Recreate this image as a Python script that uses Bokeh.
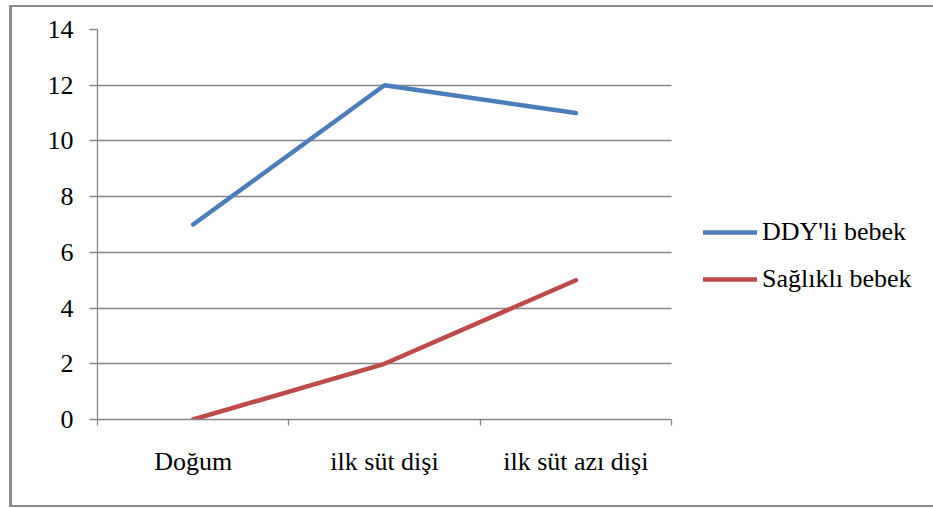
from bokeh.plotting import figure
from bokeh.models import Range1d, FixedTicker, Legend, LegendItem
from bokeh.embed import file_html
from bokeh.resources import INLINE

# Data
categories = ["Doğum", "ilk süt dişi", "ilk süt azı dişi"]
ddy_values = [7, 12, 11]
saglikli_values = [0, 2, 5]
y_ticks = [0, 2, 4, 6, 8, 10, 12, 14]

FONT = "Liberation Serif"
GRID = "#868686"
BLUE = "#4A7EBB"
RED = "#BE4B48"

n = len(categories)
x_pos = [i + 0.5 for i in range(n)]
boundaries = list(range(n + 1))

# The frame runs to the right edge so the legend can sit beside the data;
# the data area itself covers 574 of the 839 frame pixels.
FRAME_W, DATA_W = 839, 574
x_end = n * FRAME_W / DATA_W

p = figure(
    width=924, height=502,
    output_backend="svg", toolbar_location=None,
    x_range=Range1d(0, x_end), y_range=Range1d(0, max(y_ticks)),
    min_border_left=85, min_border_right=0,
    min_border_top=22, min_border_bottom=90,
)
p.outline_line_color = None
p.background_fill_color = "white"
p.border_fill_color = "white"
p.styles = {
    "margin-left": "9px",
    "margin-top": "5px",
    "border-left": "3px solid #8a8a8a",
    "border-top": "2px solid #8a8a8a",
    "border-bottom": "2px solid #8a8a8a",
    "border-right": "none",
}

# Category axis: labels at category centres, tick marks at boundaries
xa = p.xaxis[0]
xa.bounds = (0, n)
xa.ticker = FixedTicker(ticks=x_pos, minor_ticks=boundaries)
xa.major_label_overrides = {x: c for x, c in zip(x_pos, categories)}
xa.major_tick_in = 0
xa.major_tick_out = 0
xa.minor_tick_in = 0
xa.minor_tick_out = 6
xa.minor_tick_line_color = GRID
xa.minor_tick_line_width = 1.3
xa.axis_line_color = GRID
xa.axis_line_width = 1.3
xa.major_label_text_font = FONT
xa.major_label_text_font_size = "26px"
xa.major_label_text_color = "black"
xa.major_label_standoff = 21
p.xgrid.visible = False

ya = p.yaxis[0]
ya.ticker = FixedTicker(ticks=y_ticks)
ya.major_tick_in = 0
ya.major_tick_out = 8
ya.major_tick_line_color = GRID
ya.major_tick_line_width = 1.3
ya.minor_tick_line_color = None
ya.axis_line_color = GRID
ya.axis_line_width = 1.3
ya.major_label_text_font = FONT
ya.major_label_text_font_size = "26px"
ya.major_label_text_color = "black"
ya.major_label_standoff = 16
p.ygrid.grid_line_color = GRID
p.ygrid.grid_line_width = 1.3
p.ygrid.cross_bounds = (0, n)

r_ddy = p.line(x_pos, ddy_values, line_color=BLUE, line_width=4.5,
               line_cap="round", line_join="round")
r_sag = p.line(x_pos, saglikli_values, line_color=RED, line_width=4.5,
               line_cap="round", line_join="round")

legend = Legend(
    items=[
        LegendItem(label="DDY'li bebek", renderers=[r_ddy]),
        LegendItem(label="Sağlıklı bebek", renderers=[r_sag]),
    ],
    location=(606, 125),
    glyph_width=54, glyph_height=24, label_height=24,
    label_standoff=5, spacing=17, padding=0, margin=0,
    border_line_color=None, background_fill_alpha=0,
    label_text_font=FONT, label_text_font_size="26px",
    label_text_color="black",
)
p.add_layout(legend, "center")

open("out.html", "w").write(file_html(p, INLINE))
